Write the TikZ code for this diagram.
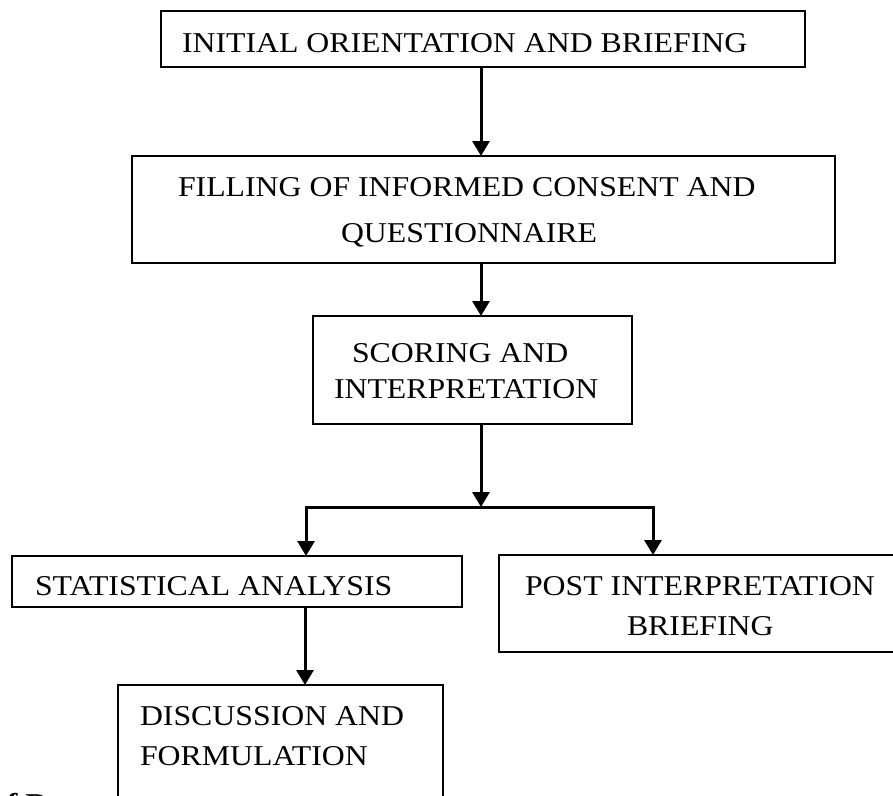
\documentclass[tikz,border=0pt]{standalone}
\usepackage{fontspec}
\setmainfont{Liberation Serif}[FakeStretch=1.108]
\usetikzlibrary{arrows.meta}
\tikzset{
  boxshape/.style={draw, line width=2pt, rectangle, anchor=north west, inner sep=0pt, outer sep=0pt},
  lbl/.style={anchor=base west, inner sep=0pt, outer sep=0pt, font=\fontsize{28.7}{34}\selectfont},
  arr/.style={line width=3pt, -{Triangle[length=15pt,width=17pt]}},
  plain/.style={line width=3pt}
}
\begin{document}
\begin{tikzpicture}[x=1pt,y=-1pt]
\useasboundingbox (0,0) rectangle (893,795);
\clip (0,0) rectangle (893,795);
\fill[white] (0,0) rectangle (893,795);
% boxes
\node[boxshape, minimum width=644pt, minimum height=56pt] (b1) at (161,11) {};
\node[boxshape, minimum width=703pt, minimum height=107pt] (b2) at (132,156) {};
\node[boxshape, minimum width=319pt, minimum height=108pt] (b3) at (313,316) {};
\node[boxshape, minimum width=450pt, minimum height=51pt] (b4) at (12,556) {};
\node[boxshape, minimum width=400pt, minimum height=97pt] (b5) at (499,555) {};
\node[boxshape, minimum width=325pt, minimum height=130pt] (b6) at (118,685) {};
% labels
\node[lbl] (t1) at (182,52) {INITIAL ORIENTATION AND BRIEFING};
\node[lbl] (t2a) at (178,196) {FILLING OF INFORMED CONSENT AND};
\node[lbl] (t2b) at (341,242) {QUESTIONNAIRE};
\node[lbl] (t3a) at (352,362) {SCORING AND};
\node[lbl] (t3b) at (334,398) {INTERPRETATION};
\node[lbl] (t4) at (35,595) {STATISTICAL ANALYSIS};
\node[lbl] (t5a) at (525,595) {POST INTERPRETATION};
\node[lbl] (t5b) at (627,635) {BRIEFING};
\node[lbl] (t6a) at (140,725) {DISCUSSION AND};
\node[lbl] (t6b) at (140,765) {FORMULATION};
\node[lbl, font=\fontsize{28.7}{34}\selectfont\bfseries] (frag) at (-9,813) {of Data};
% connector coordinates
\coordinate (cx) at (481,0);
\coordinate (dx) at (305,0);
\coordinate (split) at (481,507);
\coordinate (lft) at (306,507);
\coordinate (rgt) at (653,507);
% connectors
\draw[arr] (b1.south -| cx) -- (b2.north -| cx);
\draw[arr] (b2.south -| cx) -- (b3.north -| cx);
\draw[arr] (b3.south -| cx) -- (split);
\draw[plain, line cap=rect] (lft) -- (rgt);
\draw[arr] (lft) -- (b4.north -| lft);
\draw[arr] (rgt) -- (b5.north -| rgt);
\draw[arr] (b4.south -| dx) -- (b6.north -| dx);
\end{tikzpicture}
\end{document}
